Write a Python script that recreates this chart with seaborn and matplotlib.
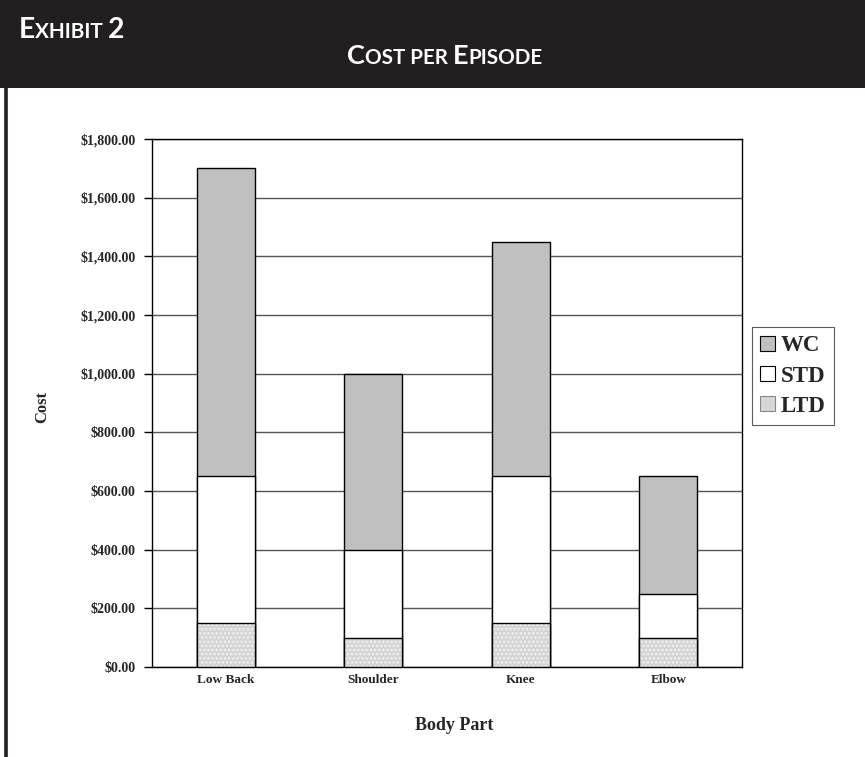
import matplotlib
matplotlib.use("Agg")
import matplotlib.pyplot as plt
import seaborn as sns
import numpy as np
import pandas as pd
from matplotlib.patches import Rectangle, Patch
from matplotlib.lines import Line2D

categories = ["Low Back", "Shoulder", "Knee", "Elbow"]
ltd = [150, 100, 150, 100]
std = [500, 300, 500, 150]
wc = [1050, 600, 800, 400]
series_names = ["WC", "STD", "LTD"]
yticks = [0, 200, 400, 600, 800, 1000, 1200, 1400, 1600, 1800]

sns.set_theme(style="white")
plt.rcParams["font.family"] = ["Liberation Serif", "DejaVu Serif"]
plt.rcParams["hatch.linewidth"] = 1.0

title_family = ["Lato", "DejaVu Sans"]

W, H = 865, 757
fig = plt.figure(figsize=(W / 100, H / 100), dpi=100)
fig.patch.set_facecolor("white")

# header band and left rule
fig.add_artist(Rectangle((0, 1 - 88 / H), 1, 88 / H, transform=fig.transFigure,
                         facecolor="#231f20", edgecolor="none", zorder=0))
fig.add_artist(Line2D([5.5 / W, 5.5 / W], [0, 1 - 88 / H], transform=fig.transFigure,
                      color="#231f20", lw=2.6))

ax = fig.add_axes([152 / W, 1 - 667 / H, 590 / W, 528 / H])

df = pd.DataFrame({"part": categories, "LTD": ltd, "STD": std, "WC": wc})
df["lvl1"] = df["LTD"]
df["lvl2"] = df["LTD"] + df["STD"]
df["lvl3"] = df["lvl2"] + df["WC"]

bw = 0.395
sns.barplot(data=df, x="part", y="lvl3", color="#c0c0c0", width=bw, ax=ax,
            edgecolor="black", linewidth=1.0, saturation=1, zorder=3)
sns.barplot(data=df, x="part", y="lvl2", color="white", width=bw, ax=ax,
            edgecolor="black", linewidth=1.0, saturation=1, zorder=4)
sns.barplot(data=df, x="part", y="lvl1", color="#d6d6d6", width=bw, ax=ax,
            edgecolor="#f4f4f4", linewidth=0, hatch="....", saturation=1, zorder=5)
sns.barplot(data=df, x="part", y="lvl1", fill=False, width=bw, ax=ax,
            edgecolor="black", linewidth=1.0, zorder=6)

ax.set_xlim(-0.5, 3.5)
ax.set_ylim(0, 1800)
ax.set_yticks(yticks)
ax.set_yticklabels([f"${v:,.2f}" for v in yticks], fontsize=10, fontweight="bold")
ax.set_xticks(range(len(categories)))
ax.set_xticklabels(categories, fontsize=9.5, fontweight="bold")
ax.yaxis.grid(True, color="#555555", lw=1.0, zorder=1)
ax.xaxis.grid(False)
ax.set_axisbelow(True)
for s in ax.spines.values():
    s.set_visible(True)
    s.set_color("black")
    s.set_linewidth(1.0)
ax.tick_params(axis="y", which="major", length=6, width=1, color="black",
               direction="out", left=True, pad=6)
ax.tick_params(axis="x", length=0, pad=5)
ax.set_xlabel("")
ax.set_ylabel("")

fig.text(42 / W, 1 - 407 / H, "Cost", rotation=90, ha="center", va="center",
         fontsize=12, fontweight="bold")
fig.text(454 / W, 1 - 726 / H, "Body Part", ha="center", va="center",
         fontsize=13, fontweight="bold")

handles = [Patch(facecolor="#c0c0c0", edgecolor="black", lw=0.8),
           Patch(facecolor="white", edgecolor="black", lw=0.8),
           Patch(facecolor="#d6d6d6", edgecolor="#888888", lw=0.8)]
leg = fig.legend(handles, series_names, loc="center left",
                 bbox_to_anchor=(752 / W, 1 - 376 / H), frameon=True,
                 fancybox=False, edgecolor="#333333",
                 prop={"weight": "bold", "size": 16.5}, handlelength=0.65,
                 handleheight=0.65, handletextpad=0.25, borderpad=0.35,
                 labelspacing=0.4, borderaxespad=0)
leg.get_frame().set_linewidth(0.8)

fig.canvas.draw()
renderer = fig.canvas.get_renderer()

def small_caps(x_px, y_px, parts, target_w, ha="left"):
    artists = []
    for txt, size in parts:
        t = fig.text(0, 0, txt, color="white", fontsize=size, family=title_family,
                     fontweight="bold", va="baseline", ha="left")
        artists.append(t)
    widths = [a.get_window_extent(renderer).width for a in artists]
    scale = target_w / sum(widths)
    for a, (txt, size) in zip(artists, parts):
        a.set_fontsize(size * scale)
    widths = [a.get_window_extent(renderer).width for a in artists]
    total = sum(widths)
    x0 = x_px - (total / 2 if ha == "center" else 0)
    for a, w in zip(artists, widths):
        a.set_position((x0 / W, 1 - y_px / H))
        x0 += w

small_caps(19, 38, [("E", 17), ("XHIBIT ", 12.5), ("2", 17)], 106)
small_caps(445, 64, [("C", 19), ("OST PER ", 14.5), ("E", 19), ("PISODE", 14.5)], 196,
           ha="center")

fig.savefig("out.png", dpi=100, facecolor="white")
